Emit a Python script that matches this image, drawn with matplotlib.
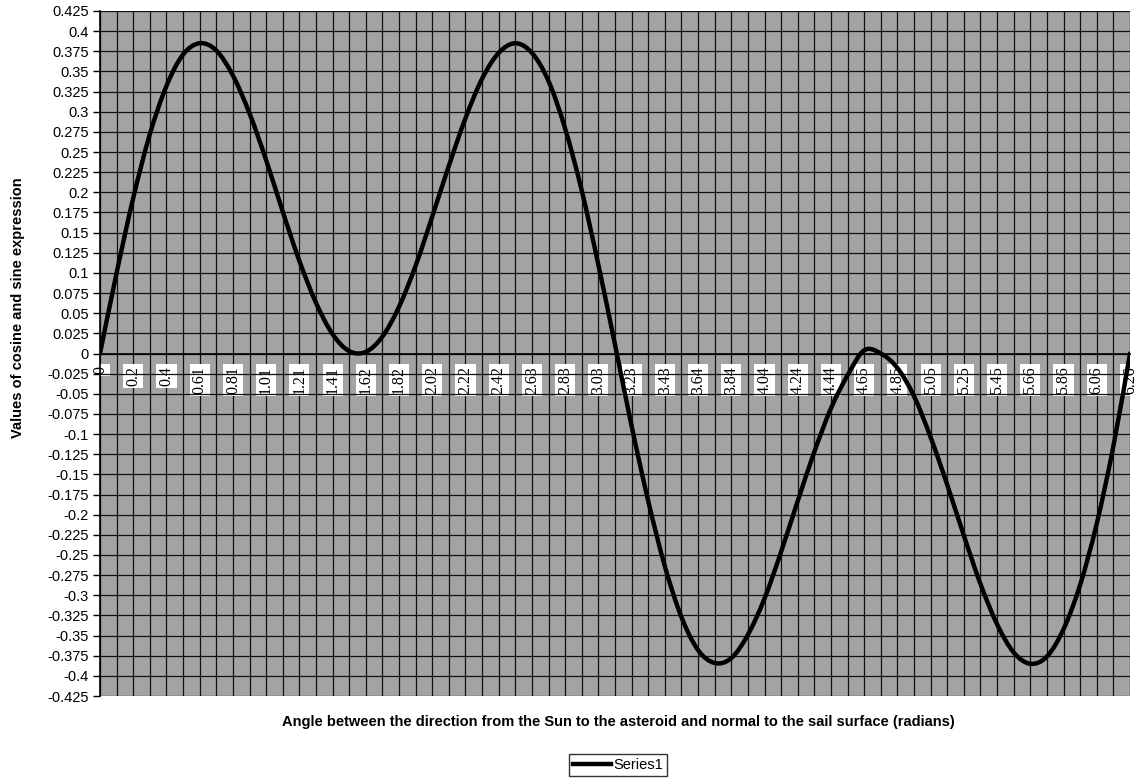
import numpy as np
import matplotlib
matplotlib.use("Agg")
import matplotlib.pyplot as plt
from matplotlib.path import Path
from matplotlib.patches import PathPatch

# category labels shown on the x axis (every other category)
angle_labels = ['0', '0.2', '0.4', '0.61', '0.81', '1.01', '1.21', '1.41',
                '1.62', '1.82', '2.02', '2.22', '2.42', '2.63', '2.83', '3.03',
                '3.23', '3.43', '3.64', '3.84', '4.04', '4.24', '4.44', '4.65',
                '4.85', '5.05', '5.25', '5.45', '5.66', '5.86', '6.06', '6.26']

# values, one per category
values = [0.000, 0.100, 0.193, 0.272, 0.332, 0.371, 0.385, 0.376, 0.345, 0.298,
          0.240, 0.176, 0.115, 0.063, 0.024, 0.003, 0.002, 0.021, 0.058, 0.109,
          0.170, 0.233, 0.292, 0.341, 0.373, 0.385, 0.373, 0.338, 0.279, 0.202,
          0.110, 0.011, -0.090, -0.183, -0.264, -0.327, -0.368, -0.384, -0.378, -0.349,
          -0.304, -0.246, -0.183, -0.122, -0.068, -0.027, 0.004, 0.000, -0.018, -0.053,
          -0.104, -0.163, -0.226, -0.286, -0.336, -0.371, -0.385, -0.376, -0.342, -0.287,
          -0.211, -0.115, 0.000]

yticks = np.round(np.arange(-0.425, 0.4251, 0.025), 3)


def excel_fmt(v):
    s = f"{v:.3f}".rstrip('0').rstrip('.')
    return '0' if s in ('-0', '0') else s


def smooth_path(xs, ys):
    # excel style smoothed line: bezier segments through every point
    pts = np.column_stack([xs, ys])
    ext = np.vstack([pts[0], pts, pts[-1]])
    verts = [pts[0]]
    codes = [Path.MOVETO]
    for i in range(len(pts) - 1):
        p0, p1, p2, p3 = ext[i], ext[i + 1], ext[i + 2], ext[i + 3]
        verts += [p1 + (p2 - p0) / 6, p2 - (p3 - p1) / 6, p2]
        codes += [Path.CURVE4] * 3
    return Path(verts, codes)


plt.rcParams['font.family'] = ['Liberation Sans', 'DejaVu Sans']

fig = plt.figure(figsize=(11.4, 7.78), dpi=100)
ax = fig.add_axes([100 / 1140, 1 - 696 / 778, 1030 / 1140, 685 / 778])
ax.set_facecolor('#a3a3a3')

x = np.arange(len(values))
ax.add_patch(PathPatch(smooth_path(x, values), facecolor='none', edgecolor='black',
                       lw=3.2, zorder=3, capstyle='round'))
ax.plot([], [], color='black', lw=3.2, label='Series1')

ax.set_xlim(0, len(values) - 1)
ax.set_ylim(-0.425, 0.425)

# category axis crosses at zero
for side in ['top', 'right', 'left']:
    ax.spines[side].set_visible(False)
ax.spines['bottom'].set_position(('data', 0))
ax.spines['bottom'].set_linewidth(1.2)

ax.set_xticks(x[::2])
ax.set_xticklabels(angle_labels)
ax.set_xticks(x[1::2], minor=True)
ax.tick_params(axis='x', which='both', length=0, pad=9, rotation=90)
for lbl in ax.get_xticklabels():
    lbl.set_family(['Liberation Serif', 'DejaVu Serif'])
    lbl.set_fontsize(11.5)
    lbl.set_va('top')
    lbl.set_bbox(dict(facecolor='white', edgecolor='none', pad=1.5))

ax.set_yticks(yticks)
ax.set_yticklabels([excel_fmt(v) for v in yticks])
ax.tick_params(axis='y', length=5, width=1, pad=3, labelsize=10.5, direction='out')

ax.grid(True, which='both', axis='x', color='#111111', lw=0.9, zorder=1)
ax.grid(True, which='major', axis='y', color='#111111', lw=0.9, zorder=1)
ax.set_axisbelow(True)
ax.plot([0, 0], [-0.425, 0.425], color='black', lw=1.2, clip_on=False, zorder=2)

fig.text(0.016, 1 - 308 / 778, 'Values of cosine and sine expression', rotation=90,
         ha='center', va='center', fontsize=10.5, fontweight='bold')
fig.text(618 / 1140, 1 - 722 / 778,
         'Angle between the direction from the Sun to the asteroid and normal to the sail surface (radians)',
         ha='center', va='center', fontsize=10.5, fontweight='bold')

fig.legend(loc='center', bbox_to_anchor=(618 / 1140, 1 - 765 / 778), fontsize=10.5,
           frameon=True, fancybox=False, edgecolor='black', handlelength=2.6,
           handletextpad=0.2, borderpad=0.25, borderaxespad=0)

fig.savefig('out.png', dpi=100)
